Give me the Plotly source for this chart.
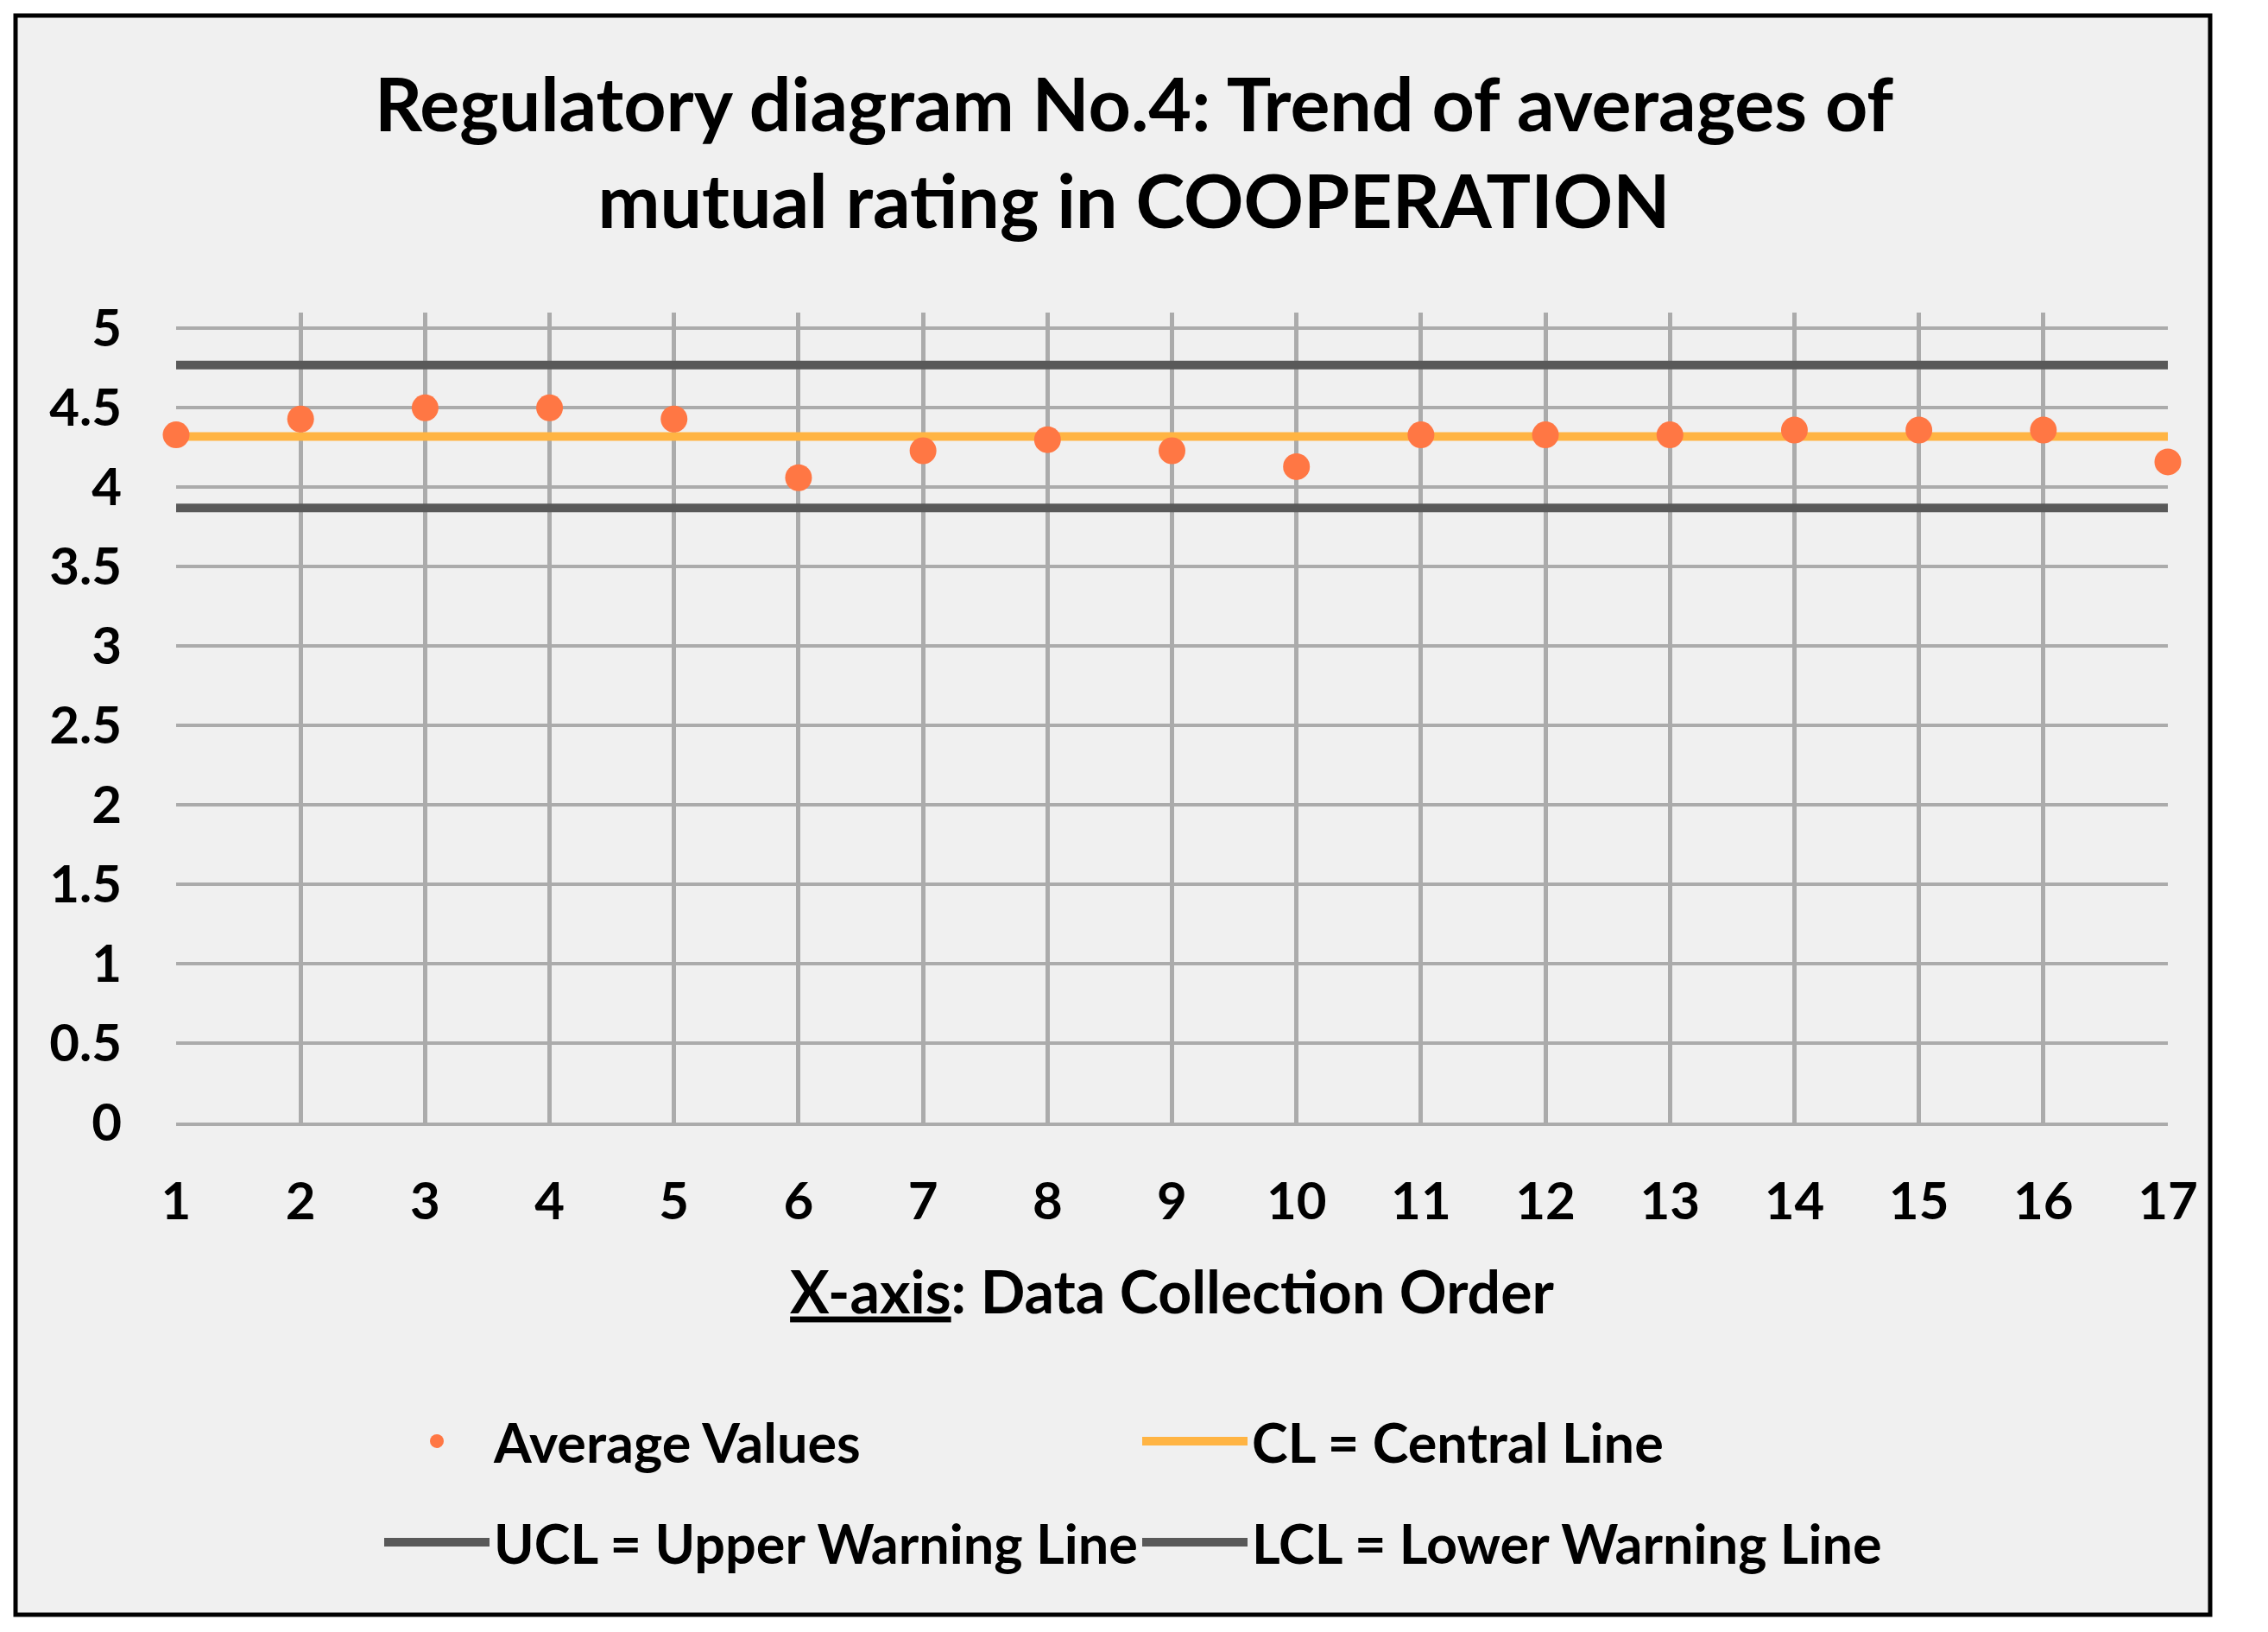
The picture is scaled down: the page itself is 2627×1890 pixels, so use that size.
import plotly.graph_objects as go

# ---- data ----
order = list(range(1, 18))
average_values = [4.33, 4.43, 4.50, 4.50, 4.43, 4.06, 4.23, 4.30, 4.23, 4.13,
                  4.33, 4.33, 4.33, 4.36, 4.36, 4.36, 4.16]
cl_value = 4.32
ucl_value = 4.77
lcl_value = 3.87
x_ticks = order
y_ticks = [0, 0.5, 1, 1.5, 2, 2.5, 3, 3.5, 4, 4.5, 5]
y_tick_labels = ["0", "0.5", "1", "1.5", "2", "2.5", "3", "3.5", "4", "4.5", "5"]

title_text = "Regulatory diagram No.4: Trend of averages of<br>mutual rating in COOPERATION"
x_title = "<u>X-axis</u>: Data Collection Order"

FONT = "Lato"
W, H = 2627, 1890
ML, MR, MT, MB = 204, 116, 362, 590
PW, PH = W - ML - MR, H - MT - MB

def px_x(p):
    return (p - ML) / PW

def px_y(p):
    return (H - MB - p) / PH

fig = go.Figure()

x_span = [order[0], order[-1]]
fig.add_trace(go.Scatter(x=x_span, y=[ucl_value, ucl_value], mode="lines",
                         name="UCL = Upper Warning Line",
                         line=dict(color="#595959", width=10),
                         legend="legend2", legendrank=1, hoverinfo="skip"))
fig.add_trace(go.Scatter(x=x_span, y=[lcl_value, lcl_value], mode="lines",
                         name="LCL = Lower Warning Line",
                         line=dict(color="#595959", width=10),
                         legend="legend2", legendrank=2, hoverinfo="skip"))
fig.add_trace(go.Scatter(x=x_span, y=[cl_value, cl_value], mode="lines",
                         name="CL = Central Line",
                         line=dict(color="#FFB443", width=10),
                         legend="legend", legendrank=2, hoverinfo="skip"))
fig.add_trace(go.Scatter(x=order, y=average_values, mode="markers",
                         name="Average Values",
                         marker=dict(color="#FF7744", size=31),
                         cliponaxis=False,
                         legend="legend", legendrank=1))

# chart frame (inner light background with black border)
fig.add_shape(type="rect", xref="paper", yref="paper",
              x0=px_x(18), x1=px_x(2560), y0=px_y(1870), y1=px_y(18),
              line=dict(color="black", width=5), fillcolor="#F0F0F0",
              layer="below")

legend_common = dict(orientation="h", xanchor="left", yanchor="middle",
                     font=dict(family=FONT, size=63, color="black", weight=700),
                     itemwidth=122, entrywidth=741, entrywidthmode="pixels",
                     bgcolor="rgba(0,0,0,0)", borderwidth=0,
                     traceorder="normal")

fig.update_layout(
    width=W, height=H,
    margin=dict(l=ML, r=MR, t=MT, b=MB, pad=0),
    paper_bgcolor="white",
    plot_bgcolor="#E4E4E4",
    showlegend=True,
    title=dict(text=title_text, x=0.5, xanchor="center",
               y=1 - 152 / H, yanchor="middle", yref="container",
               font=dict(family=FONT, size=86, color="black", weight=700)),
    legend=dict(x=px_x(440), y=px_y(1669), **legend_common),
    legend2=dict(x=px_x(440), y=px_y(1786), **legend_common),
    xaxis=dict(range=[1, 17], tickmode="array", tickvals=x_ticks,
               ticktext=[str(v) for v in x_ticks],
               showgrid=True, gridcolor="#ABABAB", gridwidth=5,
               zeroline=False, showline=True, linecolor="#ABABAB", linewidth=4,
               ticks="outside", ticklen=36, tickcolor="rgba(0,0,0,0)",
               tickfont=dict(family=FONT, size=60, color="black", weight=700),
               title=dict(text=x_title, standoff=50,
                          font=dict(family=FONT, size=68, color="black", weight=700))),
    yaxis=dict(range=[0, 5.1], tickmode="array", tickvals=y_ticks,
               ticktext=y_tick_labels,
               showgrid=True, gridcolor="#ABABAB", gridwidth=4,
               zeroline=False, showline=False,
               ticks="outside", ticklen=50, tickcolor="rgba(0,0,0,0)",
               tickfont=dict(family=FONT, size=60, color="black", weight=700)),
)

fig.write_html("out.html", config={"displayModeBar": False},
               post_script="document.body.style.margin='0';")
